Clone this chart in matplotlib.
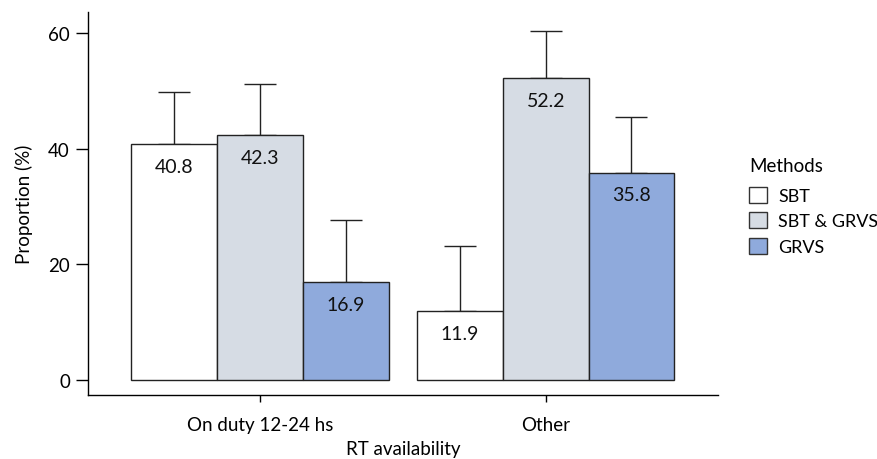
import matplotlib
matplotlib.use("Agg")
import matplotlib.pyplot as plt
from matplotlib.patches import Patch
import numpy as np

plt.rcParams['font.family'] = ['Lato', 'DejaVu Sans']

categories = ["On duty 12-24 hs", "Other"]
methods = ["SBT", "SBT & GRVS", "GRVS"]
values = {
    "SBT": [40.8, 11.9],
    "SBT & GRVS": [42.3, 52.2],
    "GRVS": [16.9, 35.8],
}
upper = {
    "SBT": [49.8, 23.2],
    "SBT & GRVS": [51.2, 60.4],
    "GRVS": [27.7, 45.5],
}
colors = {"SBT": "#FFFFFF", "SBT & GRVS": "#D6DCE4", "GRVS": "#8FAADC"}
yticks = [0, 20, 40, 60]

fig = plt.figure(figsize=(8.77, 4.60), dpi=100)
ax = fig.add_axes([88/877, 1-396/460, (718-88)/877, (396-13)/460])

x = np.arange(len(categories))
width = 0.3
for i, m in enumerate(methods):
    pos = x + (i - 1) * width
    vals = np.array(values[m])
    err = np.array(upper[m]) - vals
    ax.bar(pos, vals, width, color=colors[m], edgecolor="#222222", linewidth=1.0, zorder=2)
    ax.errorbar(pos, vals, yerr=[np.zeros_like(err), err], fmt="none",
                ecolor="#222222", elinewidth=1.0, capsize=11.5, capthick=1.0, zorder=1)
    for p, v in zip(pos, vals):
        ax.text(p, v - 3.8, f"{v:.1f}", ha="center", va="center", fontsize=14, color="#111111", zorder=3)

ax.set_xlim(-0.602, 1.603)
ax.set_ylim(-2.59, 63.63)
ax.set_xticks(x)
ax.set_xticklabels(categories, fontsize=13.5)
ax.set_yticks(yticks)
ax.set_yticklabels([str(t) for t in yticks], fontsize=13.5)
ax.tick_params(axis="y", length=9, width=1, pad=4)
ax.tick_params(axis="x", length=5, width=1, pad=10)
for s in ["top", "right"]:
    ax.spines[s].set_visible(False)
for s in ["left", "bottom"]:
    ax.spines[s].set_linewidth(1.0)
ax.set_xlabel("RT availability", fontsize=13.5, labelpad=5)
ax.set_ylabel("Proportion (%)", fontsize=13.5, labelpad=11)

handles = [Patch(facecolor=colors[m], edgecolor="#333333", linewidth=1.0, label=m) for m in methods]
leg = fig.legend(handles=handles, title="Methods", loc="upper left",
                 bbox_to_anchor=(733/877, 1-142/460), frameon=False,
                 fontsize=13, title_fontsize=13.5, handlelength=1.0, handleheight=1.0,
                 handletextpad=0.6, labelspacing=0.45, alignment="left")
leg._legend_box.align = "left"
leg._legend_box.sep = 9

fig.savefig("out.png", dpi=100)
